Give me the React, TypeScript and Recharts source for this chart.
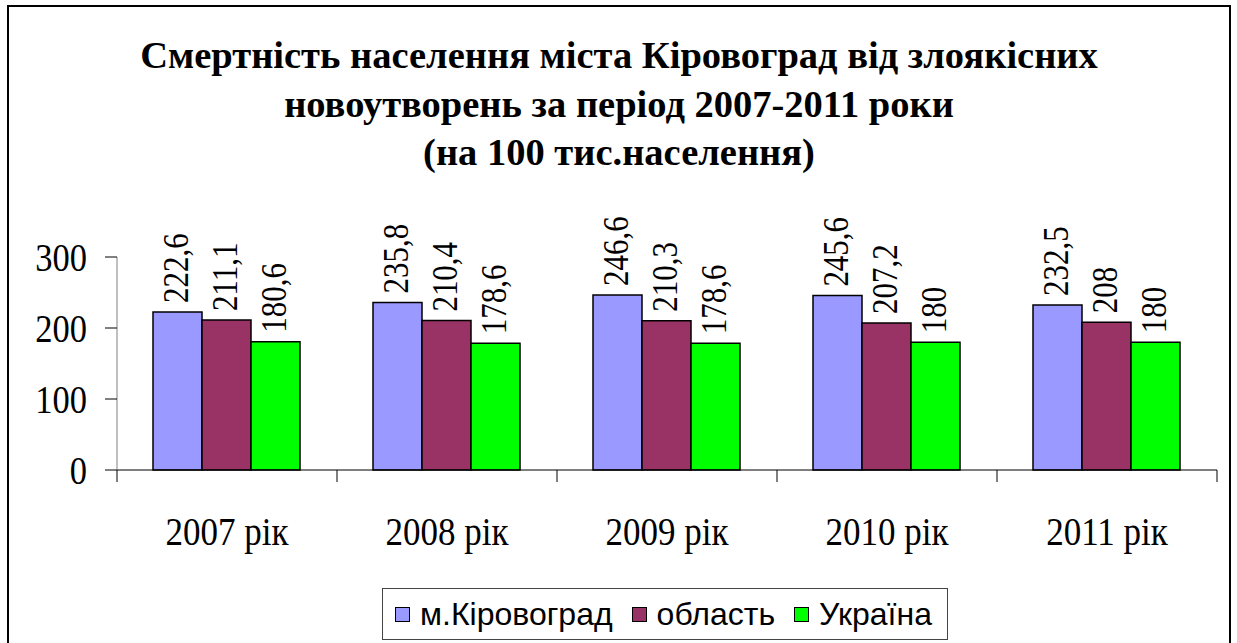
import { BarChart, Bar, XAxis, YAxis, LabelList } from "recharts";

const years = ["2007 рік", "2008 рік", "2009 рік", "2010 рік", "2011 рік"];
const kirovohrad = [222.6, 235.8, 246.6, 245.6, 232.5];
const oblast = [211.1, 210.4, 210.3, 207.2, 208];
const ukraine = [180.6, 178.6, 178.6, 180, 180];
const yTicks = [0, 100, 200, 300];

const series = [
  { key: "city", name: "м.Кіровоград", color: "#9999FF" },
  { key: "oblast", name: "область", color: "#993366" },
  { key: "ukraine", name: "Україна", color: "#00FF00" },
];

const data = years.map((year, i) => ({
  year,
  city: kirovohrad[i],
  oblast: oblast[i],
  ukraine: ukraine[i],
}));

const SERIF = '"Liberation Serif", "Times New Roman", serif';
const SANS = '"Liberation Sans", Arial, sans-serif';
// the source text is a bit taller than the font, so stretch it a little
const STRETCH = 1.17;

const XTick = (props: any) => {
  const { x, y, payload, index, width, visibleTicksCount } = props;
  const half = width / visibleTicksCount / 2;
  return (
    <g>
      <line x1={x - half} x2={x - half} y1={y - 12} y2={y} stroke="#000" />
      {index === visibleTicksCount - 1 && (
        <line x1={x + half} x2={x + half} y1={y - 12} y2={y} stroke="#000" />
      )}
      <text
        transform={`translate(${x}, ${y + 63}) scale(1, ${STRETCH})`}
        textAnchor="middle"
        style={{ fontFamily: SERIF, fontSize: 35 }}
        fill="#000"
      >
        {payload.value}
      </text>
    </g>
  );
};

const YTick = (props: any) => {
  const { x, y, payload } = props;
  return (
    <text
      transform={`translate(${x}, ${y}) scale(1, ${STRETCH})`}
      textAnchor="end"
      dy="0.355em"
      style={{ fontFamily: SERIF, fontSize: 34.5 }}
      fill="#000"
    >
      {payload.value}
    </text>
  );
};

const BarLabel = (props: any) => {
  const { x, y, width, value } = props;
  const cx = x + width / 2 - 2;
  const cy = y - 9;
  return (
    <text
      transform={`translate(${cx}, ${cy}) rotate(-90) scale(1, ${STRETCH})`}
      textAnchor="start"
      dominantBaseline="central"
      style={{ fontFamily: SERIF, fontSize: 31 }}
      fill="#000"
    >
      {String(value).replace(".", ",")}
    </text>
  );
};

export default function App() {
  return (
    <div
      style={{
        position: "absolute",
        left: 0,
        top: 0,
        width: 1237,
        height: 643,
        overflow: "hidden",
        background: "#fff",
      }}
    >
      <div
        style={{
          position: "absolute",
          left: 7,
          top: 5,
          width: 1220,
          height: 700,
          border: "2px solid #000",
        }}
      />
      <div
        style={{
          position: "absolute",
          left: 8,
          top: 31,
          width: 1222,
          textAlign: "center",
          fontFamily: SERIF,
          fontWeight: "bold",
          fontSize: 38.5,
          lineHeight: "48.5px",
          color: "#000",
        }}
      >
        Смертність населення міста Кіровоград від злоякісних
        <br />
        новоутворень за період 2007-2011 роки
        <br />
        (на 100 тис.населення)
      </div>
      <div style={{ position: "absolute", left: 0, top: 0 }}>
        <BarChart
          width={1237}
          height={643}
          data={data}
          margin={{ top: 257, right: 20, bottom: 93, left: 0 }}
          barCategoryGap={36}
          barGap={0}
        >
          <XAxis
            dataKey="year"
            height={80}
            axisLine={{ stroke: "#000" }}
            tickLine={{ stroke: "none" }}
            tickSize={12}
            tickMargin={0}
            tick={<XTick />}
            interval={0}
          />
          <YAxis
            width={117}
            domain={[0, 300]}
            ticks={yTicks}
            axisLine={{ stroke: "#808080" }}
            tickLine={{ stroke: "#000" }}
            tickSize={12}
            tickMargin={18}
            tick={<YTick />}
          />
          {series.map((s) => (
            <Bar
              key={s.key}
              dataKey={s.key}
              name={s.name}
              fill={s.color}
              stroke="#000"
              strokeWidth={1.5}
              isAnimationActive={false}
            >
              <LabelList dataKey={s.key} content={<BarLabel />} />
            </Bar>
          ))}
        </BarChart>
      </div>
      <div
        style={{
          position: "absolute",
          left: 382,
          top: 588,
          width: 564,
          height: 50,
          border: "1px solid #444",
          display: "flex",
          alignItems: "center",
          fontFamily: SANS,
          fontSize: 32,
          color: "#000",
          boxSizing: "content-box",
        }}
      >
        {series.map((s, i) => (
          <div key={s.key} style={{ display: "flex", alignItems: "center", marginLeft: i === 0 ? 12 : 19 }}>
            <span
              style={{
                display: "inline-block",
                width: 13,
                height: 13,
                background: s.color,
                border: "1.5px solid #000",
                marginRight: 10,
              }}
            />
            <span>{s.name}</span>
          </div>
        ))}
      </div>
    </div>
  );
}
